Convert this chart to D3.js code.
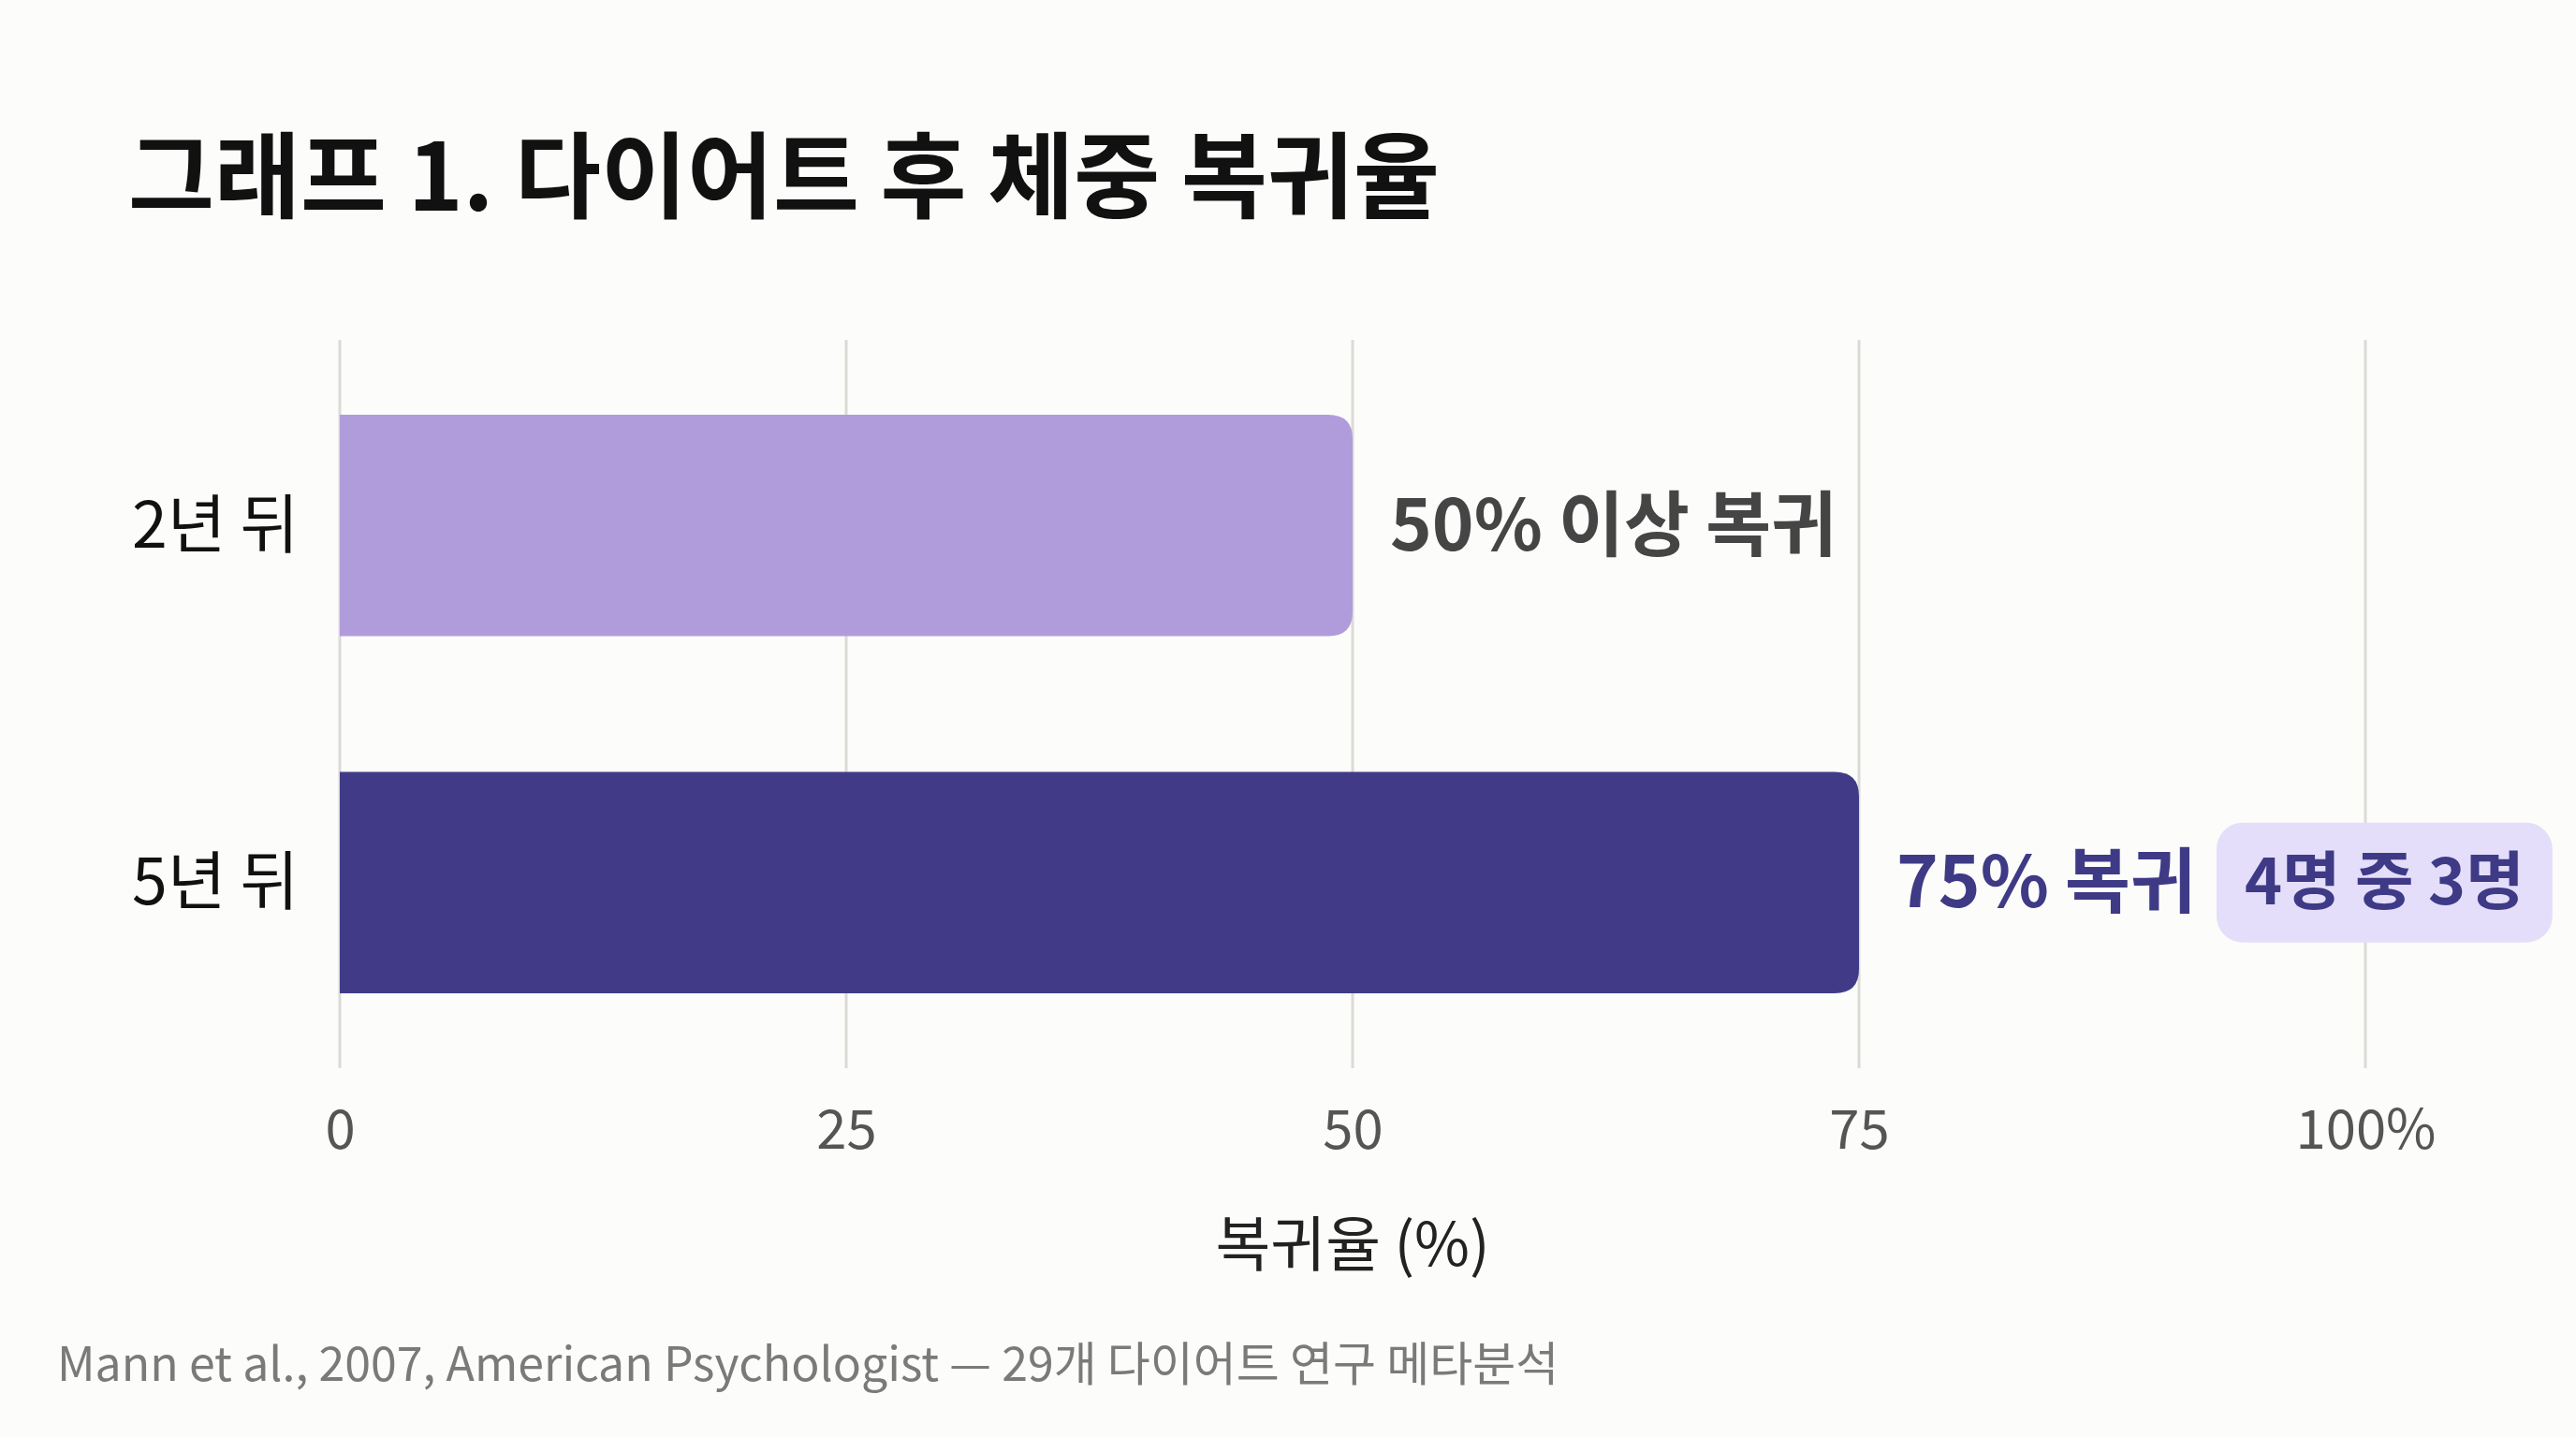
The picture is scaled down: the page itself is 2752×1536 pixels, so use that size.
<!DOCTYPE html>
<html>
<head>
<meta charset="utf-8">
<script src="https://cdn.jsdelivr.net/npm/d3@7"></script>
<style>
  body { margin: 0; background: #fcfcfa; }
  text { font-family: "Noto Sans CJK KR", "Noto Sans", sans-serif; }
</style>
</head>
<body>
<svg id="chart" width="2752" height="1536"></svg>
<script>
var WIDTH = 2752;
var HEIGHT = 1536;
var X0 = 363, X1 = 2527;
var GRID_TOP = 363, GRID_BOTTOM = 1141;

var categories = ['2년 뒤', '5년 뒤'];
var values = [50, 75];
var valueLabels = ['50% 이상 복귀', '75% 복귀'];
var badgeLabels = [null, '4명 중 3명'];
var barColors = ['#b09cdb', '#413b87'];
var labelColors = ['#454545', '#3f3a86'];
var tickValues = [0, 25, 50, 75, 100];
var tickLabels = ['0', '25', '50', '75', '100%'];

var svg = d3.select('#chart');
svg.append('rect').attr('width', WIDTH).attr('height', HEIGHT).attr('fill', '#fcfcfa');

svg.append('text')
  .attr('x', 137).attr('y', 225)
  .attr('font-size', 100).attr('font-weight', 700).attr('fill', '#111')
  .text('그래프 1. 다이어트 후 체중 복귀율');

var x = d3.scaleLinear().domain([0, 100]).range([X0, X1]);
var y = d3.scaleBand().domain(categories).range([GRID_TOP, GRID_BOTTOM]).paddingInner(0.38).paddingOuter(0.21);

// gridlines
svg.append('g').selectAll('line').data(tickValues).enter().append('line')
  .attr('x1', d => x(d)).attr('x2', d => x(d))
  .attr('y1', GRID_TOP).attr('y2', GRID_BOTTOM)
  .attr('stroke', '#dcdad5').attr('stroke-width', 3);

// ticks
var xAxis = d3.axisBottom(x).tickValues(tickValues).tickSize(0)
  .tickFormat((d, i) => tickLabels[i]);
var axisG = svg.append('g').attr('transform', 'translate(0,' + (GRID_BOTTOM + 42) + ')').call(xAxis);
axisG.select('.domain').remove();
axisG.selectAll('text').attr('font-size', 58).attr('fill', '#555')
  .attr('font-family', '"Noto Sans CJK KR", sans-serif');

svg.append('text')
  .attr('x', x(50)).attr('y', 1352).attr('text-anchor', 'middle')
  .attr('font-size', 64).attr('fill', '#222').text('복귀율 (%)');

// bars
var r = 26;
svg.append('g').selectAll('path').data(values).enter().append('path')
  .attr('fill', (d, i) => barColors[i])
  .attr('d', (d, i) => {
    var x0 = x(0), x1 = x(d), y0 = y(categories[i]), h = y.bandwidth();
    return 'M' + x0 + ',' + y0 + 'H' + (x1 - r) + 'Q' + x1 + ',' + y0 + ' ' + x1 + ',' + (y0 + r) +
      'V' + (y0 + h - r) + 'Q' + x1 + ',' + (y0 + h) + ' ' + (x1 - r) + ',' + (y0 + h) + 'H' + x0 + 'Z';
  });

// category labels
svg.append('g').selectAll('text').data(categories).enter().append('text')
  .attr('x', 319).attr('y', d => y(d) + y.bandwidth() / 2)
  .attr('dy', '0.35em').attr('text-anchor', 'end')
  .attr('font-size', 68).attr('fill', '#111').text(d => d);

// value labels + badge
values.forEach((v, i) => {
  var cy = y(categories[i]) + y.bandwidth() / 2;
  var t = svg.append('text')
    .attr('x', x(v) + 40).attr('y', cy).attr('dy', '0.35em')
    .attr('font-size', 76).attr('font-weight', 700).attr('fill', labelColors[i])
    .text(valueLabels[i]);
  if (badgeLabels[i]) {
    var bb = t.node().getBBox();
    var bx = bb.x + bb.width + 22;
    var g = svg.append('g');
    var bt = g.append('text').attr('x', bx + 30).attr('y', cy).attr('dy', '0.35em')
      .attr('font-size', 68).attr('font-weight', 700).attr('fill', labelColors[i])
      .text(badgeLabels[i]);
    var tb = bt.node().getBBox();
    g.insert('rect', 'text')
      .attr('x', bx).attr('y', cy - 64).attr('width', tb.width + 60).attr('height', 128)
      .attr('rx', 28).attr('fill', '#e4defa');
  }
});

svg.append('text')
  .attr('x', 61).attr('y', 1475)
  .attr('font-size', 50).attr('fill', '#7a7a7a')
  .text('Mann et al., 2007, American Psychologist — 29개 다이어트 연구 메타분석');
</script>
</body>
</html>
